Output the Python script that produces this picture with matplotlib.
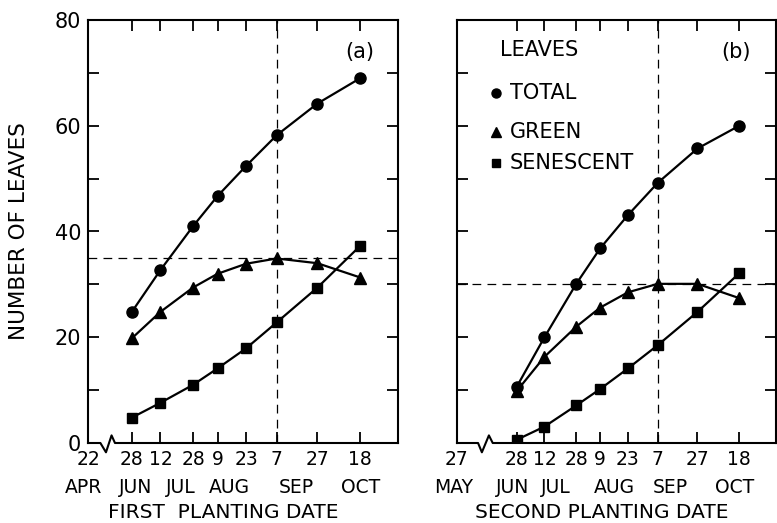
import matplotlib
matplotlib.use('Agg')
import matplotlib.pyplot as plt
import pandas as pd

plt.rcParams['font.family'] = ['DejaVu Sans']

# sampling dates (same for both plantings)
dates = ['06-28', '07-12', '07-28', '08-09', '08-23', '09-07', '09-27', '10-18']
day_labels = ['28', '12', '28', '9', '23', '7', '27', '18']

# first planting (22 APR)
total_a = [24.8, 32.7, 41.0, 46.7, 52.4, 58.2, 64.2, 69.0]
green_a = [19.8, 24.8, 29.4, 32.0, 33.9, 34.9, 34.0, 31.3]
senes_a = [4.8, 7.6, 11.0, 14.1, 17.9, 22.8, 29.4, 37.3]

# second planting (27 MAY)
total_b = [10.6, 20.0, 30.1, 36.8, 43.1, 49.2, 55.7, 60.0]
green_b = [9.8, 16.3, 22.0, 25.6, 28.5, 30.1, 30.1, 27.4]
senes_b = [0.6, 3.1, 7.1, 10.2, 14.1, 18.5, 24.8, 32.1]

ref_level_a = 35
ref_level_b = 30
ref_date = '09-07'

months_a = ['APR', 'JUN', 'JUL', 'AUG', 'SEP', 'OCT']
months_b = ['MAY', 'JUN', 'JUL', 'AUG', 'SEP', 'OCT']
series_names = ['TOTAL', 'GREEN', 'SENESCENT']
markers = ['o', '^', 's']


def doy(s):
    return pd.to_datetime('1979-' + s).dayofyear


x = [doy(d) for d in dates]
xref = doy(ref_date)

fig = plt.figure(figsize=(7.77, 5.23), dpi=100)
W, H = 777, 523
axa = fig.add_axes([88 / W, 80 / H, 310 / W, 423 / H])
axb = fig.add_axes([457 / W, 80 / H, 319 / W, 423 / H])

setups = [
    (axa, [total_a, green_a, senes_a], ref_level_a, (157.5, 309.5), '22', months_a,
     [155.5, 180.7, 202.8, 227, 259.6, 291], 'FIRST  PLANTING DATE', 0.435,
     [0.04, 0.058, 0.076, 0.087], '(a)'),
    (axb, [total_b, green_b, senes_b], ref_level_b, (149, 309.5), '27', months_b,
     [147.5, 177.2, 198.8, 228, 256.3, 288.5], 'SECOND PLANTING DATE', 0.455,
     [0.066, 0.078, 0.1, 0.112], '(b)'),
]

for ax, series, lvl, xl, first_lab, months, mpos, xlab, xlab_pos, brk, tag in setups:
    for ys, mk, ms in zip(series, markers, [8, 8.5, 7.5]):
        ax.plot(x, ys, '-', color='black', lw=1.6, marker=mk, ms=ms, zorder=3)
    ax.axhline(lvl, color='black', lw=0.9, ls=(0, (7, 5)), zorder=1)
    ax.axvline(xref, color='black', lw=0.9, ls=(0, (7, 5)), zorder=1)

    ax.set_xlim(*xl)
    ax.set_ylim(0, 80)
    ax.set_xticks([xl[0]] + x)
    ax.set_xticklabels([first_lab] + day_labels, fontsize=13.5)
    ax.set_yticks(range(0, 81, 10))
    ax.tick_params(direction='in', length=8, width=1.3, top=True, right=True, pad=5)
    for sp in ax.spines.values():
        sp.set_linewidth(1.5)
    ax.spines['bottom'].set_visible(False)

    # broken x axis drawn by hand
    bx = [0, brk[0], brk[1], brk[2], brk[3], 1]
    by = [0, 0, -0.022, 0.018, 0, 0]
    ax.plot(bx, by, color='black', lw=1.5, transform=ax.transAxes, clip_on=False, zorder=5)

    for m, p in zip(months, mpos):
        ax.text(p, -0.105, m, ha='center', va='center', fontsize=13.5,
                transform=ax.get_xaxis_transform())
    ax.text(xlab_pos, -0.165, xlab, ha='center', va='center', fontsize=14.5,
            transform=ax.transAxes)
    ax.text(0.875, 0.924, tag, ha='center', va='center', fontsize=15,
            transform=ax.transAxes)

axa.set_yticklabels(['0', '', '20', '', '40', '', '60', '', '80'], fontsize=15)
axb.set_yticklabels([])
axa.set_ylabel('NUMBER OF LEAVES', fontsize=15.5)
axa.yaxis.set_label_coords(-0.19, 0.5)

# key in panel (b)
axb.text(0.135, 0.929, 'LEAVES', ha='left', va='center', fontsize=15,
         transform=axb.transAxes)
for name, mk, ms, fy in zip(series_names, markers, [6.5, 7.5, 6], [0.827, 0.735, 0.662]):
    axb.plot([0.122], [fy], ls='none', marker=mk, ms=ms, color='black',
             transform=axb.transAxes)
    axb.text(0.165, fy, name, ha='left', va='center', fontsize=15,
             transform=axb.transAxes)

fig.savefig('out.png', dpi=100)
